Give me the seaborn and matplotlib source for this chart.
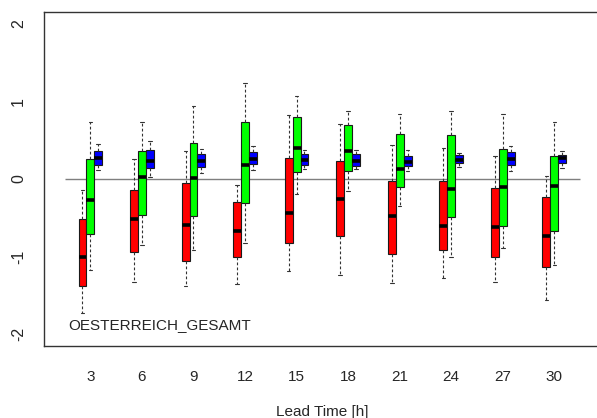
import numpy as np
import pandas as pd
import matplotlib
matplotlib.use("Agg")
import matplotlib.pyplot as plt
import seaborn as sns

# ---- data ----
lead_times = [3, 6, 9, 12, 15, 18, 21, 24, 27, 30]
series_names = ["red", "green", "blue"]
series_colors = ["#FF0000", "#00FF00", "#0000FF"]

red_lo  = [-1.73, -1.32, -1.38, -1.355, -1.18, -1.23, -1.34, -1.28, -1.32, -1.56]
red_q1  = [-1.38, -0.94, -1.05, -1.01, -0.82, -0.74, -0.96, -0.92, -1.00, -1.137]
red_med = [-1.00, -0.513, -0.59, -0.667, -0.44, -0.26, -0.474, -0.60, -0.62, -0.73]
red_q3  = [-0.517, -0.145, -0.047, -0.30, 0.274, 0.23, -0.03, -0.02, -0.12, -0.235]
red_hi  = [-0.137, 0.256, 0.36, -0.077, 0.83, 0.71, 0.436, 0.40, 0.30, 0.043]

green_lo  = [-1.17, -0.846, -0.91, -0.825, -0.19, -0.15, -0.35, -1.01, -0.89, -1.107]
green_q1  = [-0.705, -0.46, -0.474, -0.31, 0.094, 0.10, -0.107, -0.483, -0.60, -0.675]
green_med = [-0.27, 0.03, 0.008, 0.175, 0.397, 0.36, 0.13, -0.128, -0.10, -0.09]
green_q3  = [0.26, 0.355, 0.466, 0.74, 0.80, 0.69, 0.58, 0.57, 0.385, 0.30]
green_hi  = [0.74, 0.73, 0.94, 1.235, 1.07, 0.88, 0.833, 0.87, 0.84, 0.74]

blue_lo  = [0.115, 0.03, 0.073, 0.115, 0.124, 0.124, 0.10, 0.15, 0.098, 0.14]
blue_q1  = [0.184, 0.145, 0.158, 0.188, 0.18, 0.167, 0.167, 0.20, 0.175, 0.20]
blue_med = [0.27, 0.235, 0.235, 0.252, 0.24, 0.23, 0.214, 0.248, 0.256, 0.27]
blue_q3  = [0.363, 0.372, 0.316, 0.35, 0.316, 0.316, 0.295, 0.31, 0.35, 0.31]
blue_hi  = [0.45, 0.49, 0.39, 0.423, 0.37, 0.37, 0.367, 0.333, 0.427, 0.363]

y_ticks = [-2, -1, 0, 1, 2]
region_label = "OESTERREICH_GESAMT"
x_label = "Lead Time [h]"

# ---- build long table: five values per box reproduce its five-number summary ----
stats = {
    "red": (red_lo, red_q1, red_med, red_q3, red_hi),
    "green": (green_lo, green_q1, green_med, green_q3, green_hi),
    "blue": (blue_lo, blue_q1, blue_med, blue_q3, blue_hi),
}
rows = []
for s in series_names:
    lo, q1, med, q3, hi = stats[s]
    for i, lt in enumerate(lead_times):
        for v in (lo[i], q1[i], med[i], q3[i], hi[i]):
            rows.append({"lead": str(lt), "series": s, "value": v})
df = pd.DataFrame(rows)

sns.set_style("white")
plt.rcParams["font.family"] = ["Liberation Sans", "DejaVu Sans"]

W, H = 597, 418
fig = plt.figure(figsize=(W / 100, H / 100), dpi=100)
left_px, top_px, bottom_px, right_px = 44, 12, 346, 600.7
ax = fig.add_axes([left_px / W, 1 - bottom_px / H,
                   (right_px - left_px) / W, (bottom_px - top_px) / H])

ax.hlines(0, -0.5, 9.5, color="#7f7f7f", lw=1.0, zorder=0.5)

sns.boxplot(
    data=df, x="lead", y="value", hue="series",
    order=[str(t) for t in lead_times], hue_order=series_names,
    palette=dict(zip(series_names, series_colors)), saturation=1,
    width=0.46, gap=0, whis=(0, 100), dodge=True,
    linecolor="#1a1a1a", linewidth=0.8, legend=False, ax=ax,
    medianprops={"linewidth": 2.6, "color": "black", "solid_capstyle": "butt"},
    whiskerprops={"linestyle": (0, (2.5, 2)), "linewidth": 0.8, "color": "#333333"},
    capprops={"linewidth": 0.8, "color": "#333333"},
    capwidths=0.07,
)

ax.set_xlim(-0.9, 9.9)
ax.set_ylim(-2.15, 2.15)
ax.set_yticks(y_ticks)
ax.set_yticklabels([str(t) for t in y_ticks], rotation=90, va="center")
ax.set_xticks(range(len(lead_times)))
ax.set_xticklabels([str(t) for t in lead_times])
ax.tick_params(axis="y", length=0, pad=13, labelsize=11.5)
ax.tick_params(axis="x", length=0, pad=17, labelsize=11)
ax.set_ylabel("")
ax.set_xlabel(x_label, fontsize=11)
ax.xaxis.label.set_va("center")
ax.xaxis.set_label_coords(0.5, -(411.7 - bottom_px) / (bottom_px - top_px))

for side in ["left", "top", "bottom"]:
    ax.spines[side].set_visible(True)
    ax.spines[side].set_color("#333333")
    ax.spines[side].set_linewidth(1.0)
ax.spines["right"].set_visible(False)

ax.text(-0.42, -1.88, region_label, ha="left", va="center", fontsize=11)

fig.savefig("out.png", dpi=100)
